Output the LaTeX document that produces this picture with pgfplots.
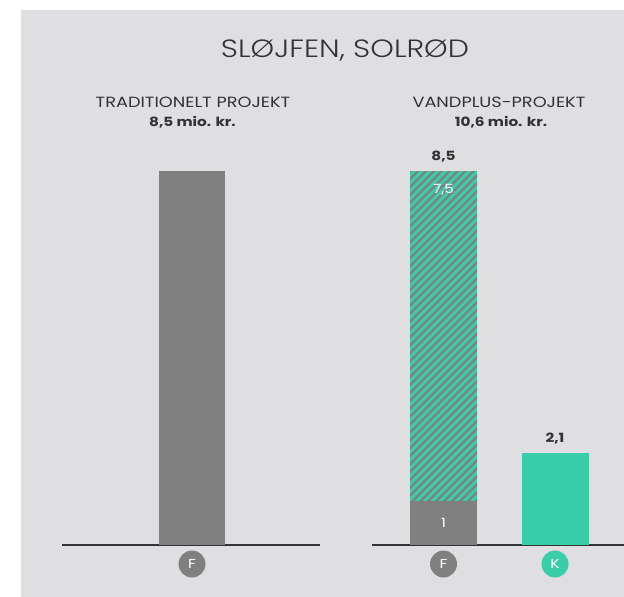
\documentclass[border=0pt]{standalone}
\usepackage{pgfplots}
\pgfplotsset{compat=1.18}
\usepackage{fontspec}
\setmainfont{Poppins}[FakeStretch=1.2]
\newfontfamily\lightfont{Poppins Light}[FakeStretch=1.2]
\usetikzlibrary{patterns.meta}
\definecolor{bg}{HTML}{DFDFE1}
\definecolor{bargray}{HTML}{808080}
\definecolor{tealk}{HTML}{3ACDA9}
\definecolor{txt}{HTML}{333333}
\begin{document}
\begin{tikzpicture}[x=1pt,y=1pt]
\useasboundingbox (0,0) rectangle (624,-597);
\fill[white] (0,0) rectangle (624,-597);
\fill[bg] (21,-10) rectangle (624,-597);
\node[font=\lightfont\fontsize{25}{28}\selectfont, text=txt] at (345,-50) {SLØJFEN, SOLRØD};
\node[font=\fontsize{14.8}{16}\selectfont, text=txt] at (193,-102) {TRADITIONELT PROJEKT};
\node[font=\bfseries\fontsize{12.7}{14}\selectfont, text=txt] at (192.5,-122) {8,5 mio. kr.};
\node[font=\fontsize{14.8}{16}\selectfont, text=txt] at (499,-102) {VANDPLUS-PROJEKT};
\node[font=\bfseries\fontsize{12.7}{14}\selectfont, text=txt] at (501,-122) {10,6 mio. kr.};
\begin{axis}[
  at={(62pt,-545pt)}, anchor=south west,
  scale only axis, width=258pt, height=374pt,
  xmin=62, xmax=320, ymin=0, ymax=8.5,
  axis x line=bottom, axis y line=none,
  x axis line style={-, line width=2pt, color=txt},
  xtick=\empty, ytick=\empty,
  clip=false,
  ybar, bar width=66pt, bar shift=0pt,
]
\addplot[fill=bargray, draw=none] coordinates {(192,8.5)};
\coordinate (F1) at (axis cs:192,0);
\end{axis}
\node[circle, fill=bargray, text=white, minimum size=27pt, inner sep=0pt, font=\fontsize{13}{14}\selectfont] at ([yshift=-19pt]F1) {F};
\begin{axis}[
  at={(372pt,-545pt)}, anchor=south west,
  scale only axis, width=252pt, height=374pt,
  xmin=372, xmax=624, ymin=0, ymax=8.5,
  axis x line=bottom, axis y line=none,
  x axis line style={-, line width=2pt, color=txt},
  xtick=\empty, ytick=\empty,
  clip=false,
  ybar stacked, bar width=67pt,
]
\addplot[fill=bargray, draw=none] coordinates {(443.5,1) (555,0)};
\addplot[fill=tealk, draw=none, postaction={pattern={Lines[angle=45,distance=5.6pt,line width=2.3pt]}, pattern color=bargray}] coordinates {(443.5,7.5) (555,0)};
\addplot[fill=tealk, draw=none] coordinates {(443.5,0) (555,2.1)};
\coordinate (Ftop) at (axis cs:443.5,8.5);
\coordinate (Fbot) at (axis cs:443.5,0);
\coordinate (Fone) at (axis cs:443.5,0.5);
\coordinate (Ktop) at (axis cs:555,2.1);
\coordinate (Kbot) at (axis cs:555,0);
\end{axis}
\node[font=\bfseries\fontsize{12.7}{14}\selectfont, text=txt] at ([yshift=14pt]Ftop) {8,5};
\node[font=\fontsize{12.7}{14}\selectfont, text=white] at ([yshift=-19pt]Ftop) {7,5};
\node[font=\fontsize{12.7}{14}\selectfont, text=white] at (Fone) {1};
\node[font=\bfseries\fontsize{12.7}{14}\selectfont, text=txt] at ([yshift=14pt]Ktop) {2,1};
\node[circle, fill=bargray, text=white, minimum size=27pt, inner sep=0pt, font=\fontsize{13}{14}\selectfont] at ([yshift=-19pt]Fbot) {F};
\node[circle, fill=tealk, text=white, minimum size=27pt, inner sep=0pt, font=\fontsize{13}{14}\selectfont] at ([yshift=-19pt]Kbot) {K};
\end{tikzpicture}
\end{document}
